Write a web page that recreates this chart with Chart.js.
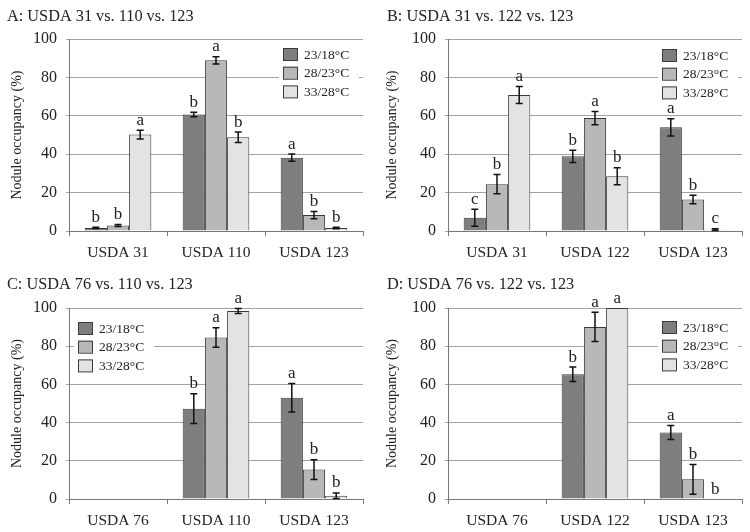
<!DOCTYPE html>
<html>
<head>
<meta charset="utf-8">
<script src="https://cdn.jsdelivr.net/npm/chart.js@4.4.1/dist/chart.umd.min.js"></script>
<style>
  html, body { margin: 0; padding: 0; background: #fff; }
  #wrap { position: relative; width: 750px; height: 532px; }
  .panel { position: absolute; width: 375px; height: 266px; }
</style>
</head>
<body>
<div id="wrap">
  <div class="panel" style="left:0;top:0"><canvas id="chartA" width="375" height="266"></canvas></div>
  <div class="panel" style="left:375px;top:0"><canvas id="chartB" width="375" height="266"></canvas></div>
  <div class="panel" style="left:0;top:266px"><canvas id="chartC" width="375" height="266"></canvas></div>
  <div class="panel" style="left:375px;top:266px"><canvas id="chartD" width="375" height="266"></canvas></div>
</div>
<script>
// temperature regimes (series)
const tempLabels = ['23/18°C', '28/23°C', '33/28°C'];
const tempColors = ['#7e7e81', '#b8b8ba', '#e3e3e3'];

// A: USDA 31 vs. 110 vs. 123
const catsA = ['USDA 31', 'USDA 110', 'USDA 123'];
const lowA = [1.6, 60.7, 38.2];
const midA = [2.9, 88.9, 8.3];
const highA = [50.2, 48.8, 1.6];
const errLowA = [0.3, 1.2, 1.9];
const errMidA = [0.5, 1.9, 1.9];
const errHighA = [2.3, 2.7, 0.4];
const letLowA = ['b', 'b', 'a'];
const letMidA = ['b', 'a', 'b'];
const letHighA = ['a', 'b', 'b'];

// B: USDA 31 vs. 122 vs. 123
const catsB = ['USDA 31', 'USDA 122', 'USDA 123'];
const lowB = [6.9, 38.9, 54.0];
const midB = [24.4, 58.8, 16.4];
const highB = [70.8, 28.5, 0.7];
const errLowB = [4.4, 3.2, 4.5];
const errMidB = [5.0, 3.4, 2.2];
const errHighB = [4.4, 4.4, 0.5];
const letLowB = ['c', 'b', 'a'];
const letMidB = ['b', 'a', 'b'];
const letHighB = ['a', 'b', 'c'];

// C: USDA 76 vs. 110 vs. 123
const catsC = ['USDA 76', 'USDA 110', 'USDA 123'];
const lowC = [0, 47.3, 53.0];
const midC = [0, 84.6, 15.4];
const highC = [0, 98.4, 1.7];
const errLowC = [0, 7.8, 7.5];
const errMidC = [0, 5.1, 5.2];
const errHighC = [0, 1.3, 1.5];
const letLowC = ['', 'b', 'a'];
const letMidC = ['', 'a', 'b'];
const letHighC = ['', 'a', 'b'];

// D: USDA 76 vs. 122 vs. 123
const catsD = ['USDA 76', 'USDA 122', 'USDA 123'];
const lowD = [0, 65.3, 34.8];
const midD = [0, 90.1, 10.3];
const highD = [0, 100, 0];
const errLowD = [0, 3.8, 3.7];
const errMidD = [0, 7.7, 7.8];
const errHighD = [0, 0, 0];
const letLowD = ['', 'b', 'a'];
const letMidD = ['', 'a', 'b'];
const letHighD = ['', 'a', 'b'];

const yTicks = [0, 20, 40, 60, 80, 100];
const yTitle = 'Nodule occupancy (%)';
const SERIF = '"Liberation Serif", "Times New Roman", serif';

// error bars, letters, panel title and in-plot legend
const panelDecor = {
  id: 'panelDecor',
  afterDatasetsDraw(chart) {
    const ctx = chart.ctx;
    const ys = chart.scales.y;
    ctx.save();
    chart.data.datasets.forEach((ds, i) => {
      chart.getDatasetMeta(i).data.forEach((bar, j) => {
        const v = ds.data[j];
        const e = ds.errors[j];
        const yTop = ys.getPixelForValue(v + e);
        const yBot = ys.getPixelForValue(Math.max(0, v - e));
        if (e > 0) {
          ctx.strokeStyle = '#111';
          ctx.lineWidth = 1.5;
          ctx.beginPath();
          ctx.moveTo(bar.x, yTop); ctx.lineTo(bar.x, yBot);
          ctx.moveTo(bar.x - 3.5, yTop); ctx.lineTo(bar.x + 3.5, yTop);
          ctx.moveTo(bar.x - 3.5, yBot); ctx.lineTo(bar.x + 3.5, yBot);
          ctx.stroke();
        }
        if (ds.letters[j]) {
          ctx.fillStyle = '#222';
          ctx.font = '17px ' + SERIF;
          ctx.textAlign = 'center';
          ctx.textBaseline = 'alphabetic';
          ctx.fillText(ds.letters[j], bar.x, yTop - 5.5);
        }
      });
    });
    ctx.restore();
  },
  afterDraw(chart, args, opts) {
    const ctx = chart.ctx;
    ctx.save();
    // panel title
    ctx.fillStyle = '#222';
    ctx.font = '16.3px ' + SERIF;
    ctx.textAlign = 'left';
    ctx.textBaseline = 'alphabetic';
    ctx.fillText(opts.title, opts.titleX, opts.titleY);
    // legend
    const lx = opts.legendX, ly = opts.legendY, step = 18.7;
    ctx.fillStyle = '#fff';
    ctx.fillRect(lx - 4, ly - 10, 80, step * 2 + 20);
    chart.data.datasets.forEach((ds, i) => {
      const cy = ly + i * step;
      ctx.fillStyle = ds.backgroundColor;
      ctx.fillRect(lx, cy - 6, 14, 12);
      ctx.strokeStyle = '#3a3a3a';
      ctx.lineWidth = 1;
      ctx.strokeRect(lx + 0.5, cy - 5.5, 14, 12);
      ctx.fillStyle = '#222';
      ctx.font = '13.5px ' + SERIF;
      ctx.textBaseline = 'middle';
      ctx.fillText(ds.label, lx + 21, cy + 1);
    });
    ctx.restore();
  }
};

function makeDatasets(vals, errs, lets) {
  return tempLabels.map((lab, i) => ({
    label: lab,
    data: vals[i],
    errors: errs[i],
    letters: lets[i],
    backgroundColor: tempColors[i],
    borderColor: '#3a3a3a',
    borderWidth: 1,
    barPercentage: 1,
    categoryPercentage: 0.68
  }));
}

function makePanel(id, cats, vals, errs, lets, cfg) {
  new Chart(document.getElementById(id), {
    type: 'bar',
    data: { labels: cats, datasets: makeDatasets(vals, errs, lets) },
    plugins: [panelDecor],
    options: {
      responsive: false,
      animation: false,
      layout: { padding: { left: 0, top: cfg.top, right: cfg.right, bottom: 0 } },
      plugins: {
        legend: { display: false },
        tooltip: { enabled: false },
        panelDecor: cfg.decor
      },
      scales: {
        x: {
          grid: { offset: true, drawOnChartArea: false, drawTicks: true, tickLength: 5, color: '#777' },
          border: { color: '#777', width: 1 },
          ticks: { font: { family: SERIF, size: 15.5 }, color: '#222', padding: 8, maxRotation: 0 },
          afterFit(s) { s.height = cfg.xHeight; }
        },
        y: {
          min: 0,
          max: 100,
          afterBuildTicks(s) { s.ticks = yTicks.map(v => ({ value: v })); },
          grid: { color: '#a3a3a3', tickLength: 3 },
          border: { color: '#777', width: 1 },
          ticks: { font: { family: SERIF, size: 16 }, color: '#222', padding: 9 },
          title: {
            display: true,
            text: yTitle,
            color: '#222',
            font: { family: SERIF, size: 14 },
            padding: { top: 9, bottom: 0 }
          },
          afterFit(s) { s.width = cfg.yWidth; }
        }
      }
    }
  });
}

makePanel('chartA', catsA, [lowA, midA, highA], [errLowA, errMidA, errHighA], [letLowA, letMidA, letHighA], {
  top: 39, right: 12, xHeight: 35, yWidth: 69,
  decor: { title: 'A: USDA 31 vs. 110 vs. 123', titleX: 7, titleY: 21, legendX: 283, legendY: 54 }
});
makePanel('chartB', catsB, [lowB, midB, highB], [errLowB, errMidB, errHighB], [letLowB, letMidB, letHighB], {
  top: 39, right: 8, xHeight: 35, yWidth: 73,
  decor: { title: 'B: USDA 31 vs. 122 vs. 123', titleX: 12, titleY: 21, legendX: 287, legendY: 55 }
});
makePanel('chartC', catsC, [lowC, midC, highC], [errLowC, errMidC, errHighC], [letLowC, letMidC, letHighC], {
  top: 42, right: 12, xHeight: 33, yWidth: 69,
  decor: { title: 'C: USDA 76 vs. 110 vs. 123', titleX: 7, titleY: 23, legendX: 78, legendY: 62 }
});
makePanel('chartD', catsD, [lowD, midD, highD], [errLowD, errMidD, errHighD], [letLowD, letMidD, letHighD], {
  top: 42, right: 8, xHeight: 33, yWidth: 73,
  decor: { title: 'D: USDA 76 vs. 122 vs. 123', titleX: 12, titleY: 23, legendX: 287, legendY: 61 }
});
</script>
</body>
</html>
